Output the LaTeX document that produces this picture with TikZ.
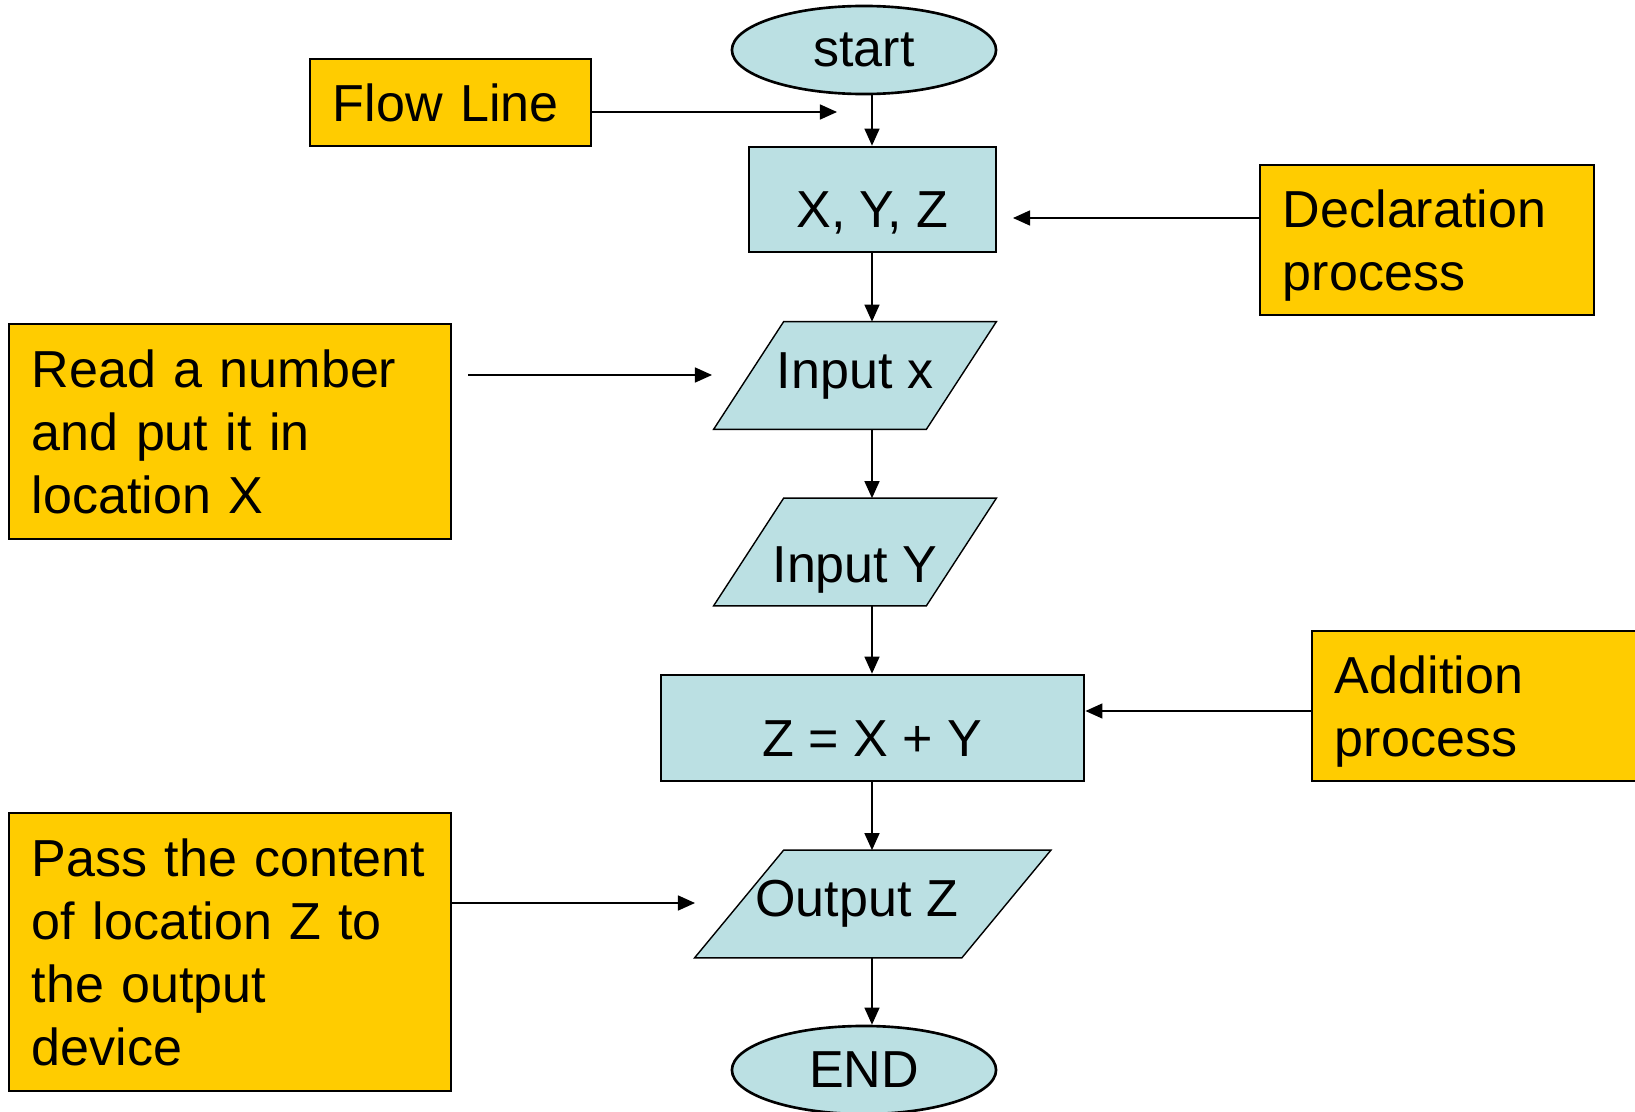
\documentclass[tikz,border=0pt]{standalone}
\usepackage{fontspec}
\setmainfont{Liberation Sans}
\usetikzlibrary{shapes.geometric,arrows.meta,backgrounds}

\definecolor{noteyellow}{HTML}{FFCC00}
\definecolor{flowblue}{HTML}{BBE0E3}

\tikzset{
  chart/.style={font=\fontsize{14.8pt}{17.9pt}\selectfont, line width=0.75pt},
  termbox/.style={ellipse, draw, fill=flowblue, minimum width=2.64cm, minimum height=0.88cm, inner sep=0pt},
  procbox/.style={rectangle, draw, fill=flowblue, inner sep=0pt, text height=0.56cm, text depth=0pt},
  iobox/.style={rectangle, inner sep=0pt, minimum height=1.05cm},
  ioshape/.style={draw, fill=flowblue},
  note/.style={rectangle, draw, fill=noteyellow, inner xsep=0.23cm, inner ysep=0pt, align=left},
  flowarrow/.style={-{Triangle[length=0.17cm,width=0.15cm]}}
}

\begin{document}
\begin{tikzpicture}[x=0.01cm, y=-0.01cm, chart]
\useasboundingbox (0,0) rectangle (1635,1112);

% main column
\node [termbox] (start) at (864,50) {start};
\node [procbox, minimum width=2.47cm, minimum height=1.05cm] (xyz) at (872.5,199.5) {X, Y, Z};
\node [iobox, minimum width=2.1cm] (inx) at (855,375.5) {Input x};
\node [iobox, minimum width=2.1cm, text height=0.6cm, text depth=0pt] (iny) at (855,552) {Input Y};
\node [procbox, minimum width=4.23cm, minimum height=1.06cm] (zsum) at (872.5,728) {Z = X + Y};
\node [iobox, minimum width=2.645cm] (outz) at (872.75,904) {Output Z\kern0.32cm};
\node [termbox] (stop) at (864,1070) {END};

% input/output shapes
\begin{pgfonlayer}{background}
\filldraw [ioshape] ([xshift=-0.35cm]inx.south west) -- ([xshift=0.35cm]inx.north west) -- ([xshift=0.35cm]inx.north east) -- ([xshift=-0.35cm]inx.south east) -- cycle;
\filldraw [ioshape] ([xshift=-0.35cm]iny.south west) -- ([xshift=0.35cm]iny.north west) -- ([xshift=0.35cm]iny.north east) -- ([xshift=-0.35cm]iny.south east) -- cycle;
\filldraw [ioshape] ([xshift=-0.445cm]outz.south west) -- ([xshift=0.445cm]outz.north west) -- ([xshift=0.445cm]outz.north east) -- ([xshift=-0.445cm]outz.south east) -- cycle;
\end{pgfonlayer}

% notes
\node [note, text width=2.35cm, minimum height=0.87cm] (flow) at (450.5,102.5) {Flow Line};
\node [note, text width=2.88cm, minimum height=1.50cm, text depth=0.631cm] (decl) at (1427,240) {Declaration\\process};
\node [note, text width=3.96cm, minimum height=2.15cm] (read) at (230,431.5) {Read a number\\and put it in\\location X};
\node [note, text width=3.02cm, minimum height=1.50cm, text depth=0.631cm] (add) at (1486,706) {Addition\\process};
\node [note, text width=3.96cm, minimum height=2.78cm] (pass) at (230,952) {Pass the content\\of location Z to\\the output\\device};

% flow lines
\coordinate (axis) at (872,0);
\draw [flowarrow] (axis |- start.south) -- (axis |- xyz.north);
\draw [flowarrow] (axis |- xyz.south) -- (axis |- inx.north);
\draw [flowarrow] (axis |- inx.south) -- (axis |- iny.north);
\draw [flowarrow] (axis |- iny.south) -- (axis |- zsum.north);
\draw [flowarrow] (axis |- zsum.south) -- (axis |- outz.north);
\draw [flowarrow] (axis |- outz.south) -- (axis |- stop.north);

% pointers from the notes
\coordinate (flowtip) at (837,112);
\draw [flowarrow] (flow.east |- flowtip) -- (flowtip);
\coordinate (decltip) at (1013,218);
\draw [flowarrow] (decl.west |- decltip) -- (decltip);
\coordinate (readtail) at (468,375);
\coordinate (readtip) at (712,375);
\draw [flowarrow] (readtail) -- (readtip);
\coordinate (addrow) at (0,711);
\draw [flowarrow] (add.west |- addrow) -- (zsum.east |- addrow);
\coordinate (passtip) at (695,903);
\draw [flowarrow] (pass.east |- passtip) -- (passtip);
\end{tikzpicture}
\end{document}
